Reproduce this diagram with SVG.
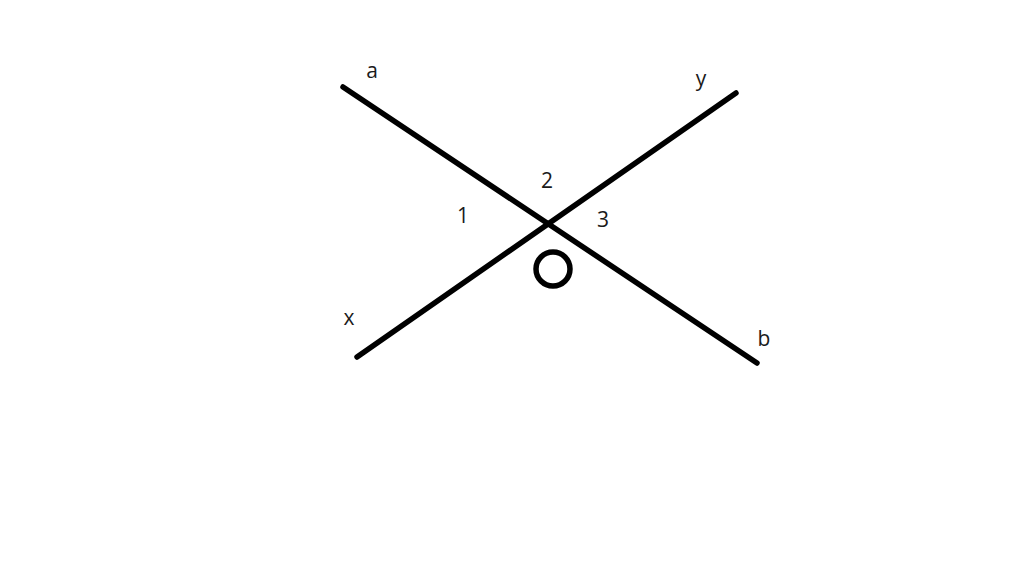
<svg xmlns="http://www.w3.org/2000/svg" width="1024" height="575" viewBox="0 0 1024 575">
<style>
.ln{stroke:#000;stroke-width:5.5;stroke-linecap:round;fill:none}
.t{font-family:"Open Sans","Liberation Sans",sans-serif;font-size:21px;fill:#1a1a1a;text-anchor:middle}
</style>
<rect width="1024" height="575" fill="#fff"/>
<g id="connectors">
<line class="ln" x1="343" y1="87" x2="757" y2="363"/>
<line class="ln" x1="357" y1="357" x2="736" y2="93"/>
</g>
<g id="angle-mark"><circle class="ln" cx="553" cy="269" r="17"/></g>
<g id="labels">
<text class="t" x="372" y="78">a</text>
<text class="t" x="701" y="86">y</text>
<text class="t" x="349" y="325">x</text>
<text class="t" x="764" y="346">b</text>
<text class="t" x="547" y="188">2</text>
<text class="t" x="463" y="223">1</text>
<text class="t" x="603" y="227">3</text>
</g>
</svg>
